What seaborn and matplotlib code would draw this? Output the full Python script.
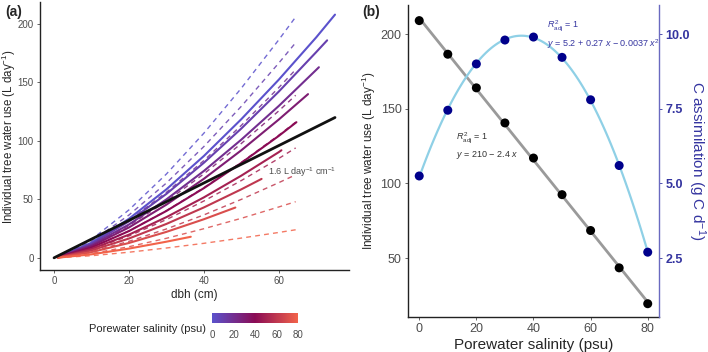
import numpy as np
import pandas as pd
import matplotlib
matplotlib.use("Agg")
import matplotlib.pyplot as plt
import seaborn as sns
from matplotlib.colors import LinearSegmentedColormap, Normalize
from matplotlib.cm import ScalarMappable

sns.set_style("white")
plt.rcParams['font.family'] = ['Liberation Sans', 'DejaVu Sans']
plt.rcParams['mathtext.fontset'] = 'custom'
plt.rcParams['mathtext.rm'] = 'Liberation Sans'
plt.rcParams['mathtext.it'] = 'Liberation Sans:italic'

# ---- panel (a) data ----
salinity = [0, 10, 20, 30, 40, 50, 60, 70, 80]
dbh_grid = [1, 10, 20, 30, 40, 50, 60, 70]

# modelled lines over the observed dbh range (solid)
solid_end_dbh = [75, 72.9, 70.7, 67.8, 64.7, 60.7, 55.4, 48.4, 36.5]
solid_use = [
    [0.5, 12.9, 33.4, 58.6, 87.1, 118.6, 152.4, 188.6, 208],
    [0.5, 12.0, 31.2, 54.7, 81.3, 110.6, 142.2, 176.0, 186],
    [0.5, 11.0, 28.5, 50.0, 74.3, 101.1, 129.9, 160.8, 163],
    [0.4, 10.0, 26.0, 45.5, 67.6, 92.0, 118.3, 140],
    [0.4, 8.8, 22.9, 40.1, 59.6, 81.2, 104.3, 116],
    [0.3, 7.6, 19.8, 34.8, 51.7, 70.3, 90.4, 92],
    [0.3, 6.4, 16.5, 29.0, 43.1, 58.6, 67.5],
    [0.2, 4.9, 12.7, 22.2, 33.0, 43],
    [0.1, 3.0, 7.9, 13.8, 18],
]

# lines over a common dbh range (dashed)
dashed_end_dbh = 64.5
dashed_use = [
    [0.7, 15.7, 41.0, 71.7, 106.6, 145.1, 186.5, 206],
    [0.6, 14.1, 36.6, 64.0, 95.2, 129.6, 166.6, 184],
    [0.5, 12.3, 32.0, 56.0, 83.2, 113.3, 145.6, 161],
    [0.4, 10.6, 27.6, 48.3, 71.8, 97.8, 125.7, 139],
    [0.4, 8.9, 23.0, 40.3, 60.0, 81.6, 104.9, 116],
    [0.3, 7.2, 18.7, 32.7, 48.6, 66.1, 85.0, 94],
    [0.2, 5.4, 14.1, 24.7, 36.7, 50.0, 64.3, 71],
    [0.2, 3.7, 9.5, 16.7, 24.9, 33.8, 43.5, 48],
    [0.1, 1.8, 4.8, 8.4, 12.4, 16.9, 21.7, 24],
]

ref_dbh = [0, 75]
ref_use = [0, 120]   # 1.6 L day-1 cm-1

# ---- panel (b) data ----
sal_b = [0, 10, 20, 30, 40, 50, 60, 70, 80]
water_use_b = [209, 186.5, 164, 140.5, 117, 92.5, 68.5, 43.5, 19.5]
c_assim = [5.25, 7.45, 9.0, 9.8, 9.9, 9.22, 7.8, 5.6, 2.7]


def build(ends, values):
    rows = []
    for s, end, vals in zip(salinity, ends, values):
        xs = [d for d in dbh_grid if d < end] + [end]
        for d, v in zip(xs, vals):
            rows.append((s, d, v))
    return pd.DataFrame(rows, columns=["salinity", "dbh", "use"])


df_solid = build(solid_end_dbh, solid_use)
df_dash = build([dashed_end_dbh] * len(salinity), dashed_use)

cmap = LinearSegmentedColormap.from_list(
    "sal", ["#5b52cc", "#8a0b55", "#f2634a"])
norm = Normalize(0, 80)

grey = "#4d4d4d"
blue = "#3535a0"

fig = plt.figure(figsize=(7.08, 3.52), dpi=100)
ax = fig.add_axes([0.0565, 0.233, 0.4365, 0.760])

sns.lineplot(data=df_dash, x="dbh", y="use", hue="salinity", units="salinity",
             estimator=None, sort=False, palette=cmap, hue_norm=norm,
             legend=False, lw=1.0, alpha=0.85, dashes=False, ax=ax)
for ln in ax.get_lines():
    ln.set_dashes((3.5, 3))
sns.lineplot(data=df_solid, x="dbh", y="use", hue="salinity", units="salinity",
             estimator=None, sort=False, palette=cmap, hue_norm=norm,
             legend=False, lw=1.5, ax=ax)
sns.lineplot(x=ref_dbh, y=ref_use, color="#111111", lw=2.0, ax=ax)
ax.text(57, 73.5, "1.6 L day$^{-1}$ cm$^{-1}$", fontsize=6.5, color=grey,
        va="center")

ax.set_xlim(-3.75, 78.75)
ax.set_ylim(-10.4, 218.4)
ax.set_xticks([0, 20, 40, 60])
ax.set_yticks([0, 50, 100, 150, 200])
ax.set_xlabel("dbh (cm)", fontsize=8.5, labelpad=2)
ax.set_ylabel("Individual tree water use (L day$^{-1}$)", fontsize=8.3)
ax.yaxis.set_label_coords(-0.07, 0.5)
for sp in ["top", "right"]:
    ax.spines[sp].set_visible(False)
for sp in ["left", "bottom"]:
    ax.spines[sp].set_color("#222222")
    ax.spines[sp].set_linewidth(1.0)
ax.tick_params(axis="both", labelsize=7, colors=grey, length=2.5, width=0.6,
               pad=2, left=True, bottom=True)

# colorbar
cax = fig.add_axes([0.2994, 0.0824, 0.1215, 0.028])
cb = fig.colorbar(ScalarMappable(norm=norm, cmap=cmap), cax=cax,
                  orientation="horizontal")
cb.outline.set_visible(False)
cb.set_ticks([0, 20, 40, 60, 80])
cax.tick_params(axis="x", direction="in", length=3, color="white", width=0.6,
                labelsize=7, labelcolor=grey, pad=5)
fig.text(0.291, 0.065, "Porewater salinity (psu)", fontsize=8, ha="right",
         va="center")

# ---- panel (b) ----
bx = fig.add_axes([0.576, 0.099, 0.355, 0.887])
sns.regplot(x=sal_b, y=water_use_b, ci=None, scatter=False, ax=bx,
            line_kws=dict(color="#9a9a9a", lw=2.0))
sns.scatterplot(x=sal_b, y=water_use_b, color="black", s=42, ax=bx,
                edgecolor="none", zorder=3)
bx.set_xlim(-4, 84)
bx.set_ylim(10.5, 219.5)
bx.set_xticks([0, 20, 40, 60, 80])
bx.set_yticks([50, 100, 150, 200])
bx.set_xlabel("Porewater salinity (psu)", fontsize=11, labelpad=2)
bx.set_ylabel("Individual tree water use (L day$^{-1}$)", fontsize=8.5)
bx.yaxis.set_label_coords(-0.12, 0.5)
bx.spines["top"].set_visible(False)
bx.spines["right"].set_visible(False)
for sp in ["left", "bottom"]:
    bx.spines[sp].set_color("#222222")
    bx.spines[sp].set_linewidth(1.0)
bx.tick_params(axis="both", labelsize=9, colors=grey, length=2.5, width=0.6,
               pad=2, left=True, bottom=True)
bx.text(13, 130.9, r"$R^2_{\mathrm{adj}}$ = 1", fontsize=6.5, color="#333333",
        va="center")
bx.text(13, 118.8, r"$y$ = 210 − 2.4 $x$", fontsize=6.5, color="#333333",
        va="center")

rx = bx.twinx()
sns.regplot(x=sal_b, y=c_assim, order=2, ci=None, scatter=False, ax=rx,
            line_kws=dict(color="#8fd0e6", lw=1.6))
sns.scatterplot(x=sal_b, y=c_assim, color="#00008b", s=42, ax=rx,
                edgecolor="none", zorder=3)
rx.set_xlim(-4, 84)
rx.set_ylim(10.5 / 20, 219.5 / 20)
rx.set_yticks([2.5, 5.0, 7.5, 10.0])
rx.set_yticklabels(["2.5", "5.0", "7.5", "10.0"])
for sp in ["top", "left", "bottom"]:
    rx.spines[sp].set_visible(False)
rx.spines["right"].set_color("#6a6ac0")
rx.spines["right"].set_linewidth(1.0)
rx.tick_params(axis="y", right=True, labelsize=9, colors=blue, length=2.5,
               width=0.6, pad=2)
for t in rx.get_yticklabels():
    t.set_fontweight("bold")
rx.set_ylabel("C assimilation (g C d$^{-1}$)", fontsize=11, color=blue,
              rotation=270, labelpad=13)
rx.text(44.7, 205.4 / 20, r"$R^2_{\mathrm{adj}}$ = 1", fontsize=6.5,
        color=blue, va="center")
rx.text(44.7, 193.3 / 20, r"$y$ = 5.2 + 0.27 $x$ − 0.0037 $x^2$", fontsize=6.5,
        color=blue, va="center")

fig.text(0.007, 0.966, "(a)", fontsize=10, fontweight="bold", va="center")
fig.text(0.512, 0.966, "(b)", fontsize=10, fontweight="bold", va="center")

fig.savefig("out.png", dpi=100)
